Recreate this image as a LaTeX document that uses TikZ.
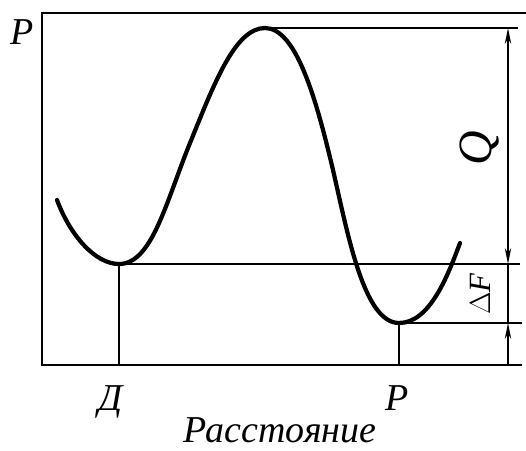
\documentclass[tikz,border=0pt]{standalone}
\usepackage{fontspec}
\setmainfont{Liberation Serif}
\usepackage{tikz}
\usetikzlibrary{arrows.meta, positioning, calc}

\begin{document}
\begin{tikzpicture}[
    x=0.025cm, y=-0.025cm,
    frame/.style={line width=1.4pt},
    thin/.style={line width=1pt},
    curve/.style={line width=3pt, line cap=round},
    dim/.style={line width=1pt, >={Stealth[length=4mm, width=1.6mm]}},
    lbl/.style={font=\fontsize{27}{30}\selectfont\itshape, inner sep=0pt}
]
\useasboundingbox (0,0) rectangle (526,450);

% key points of the curve
\coordinate (dmin) at (119,264);
\coordinate (peak) at (265,28);
\coordinate (rmin) at (399,323);

% frame
\draw[frame] (526,13) -- (42,13) -- (42,365) -- (522,365);

% energy curve
\draw[curve] (57,200) .. controls (70,235) and (95,264) .. (dmin)
    .. controls (152,264) and (166,202) .. (190,143)
    .. controls (214,84) and (235,28) .. (peak)
    .. controls (296,28) and (316,98) .. (333,170)
    .. controls (348,235) and (364,323) .. (rmin)
    .. controls (430,323) and (448,275) .. (460,243);

% levels
\draw[thin] (peak) -- (518,28);
\draw[thin] (dmin) -- (520,264);
\draw[thin] (rmin) -- (522,323);
\draw[thin] (dmin) -- (119,365);
\draw[thin] (rmin) -- (399,365);

% dimension line
\coordinate (qtop) at (508,28);
\coordinate (qbot) at (508,264);
\coordinate (ftop) at (508,323);
\coordinate (fbot) at (508,365);
\draw[dim, <->] (qtop) -- (qbot);
\draw[dim] (qbot) -- (ftop);
\draw[dim, ->] (fbot) -- (ftop);

% labels
\node[lbl, rotate=90, font=\fontsize{34}{36}\selectfont\itshape] (q) at (480,148) {Q};
\node[lbl, rotate=90, font=\fontsize{22}{24}\selectfont\itshape] (df) at (480,294) {$\Delta$F};
\node[lbl] (ptop) at (22,32) {P};
\node[lbl, anchor=base] (dlab) at (111,410) {Д};
\node[lbl, anchor=base] (rlab) at (397,410) {P};
\node[lbl, anchor=base] (dist) at (280,442) {Расстояние};
\end{tikzpicture}
\end{document}
